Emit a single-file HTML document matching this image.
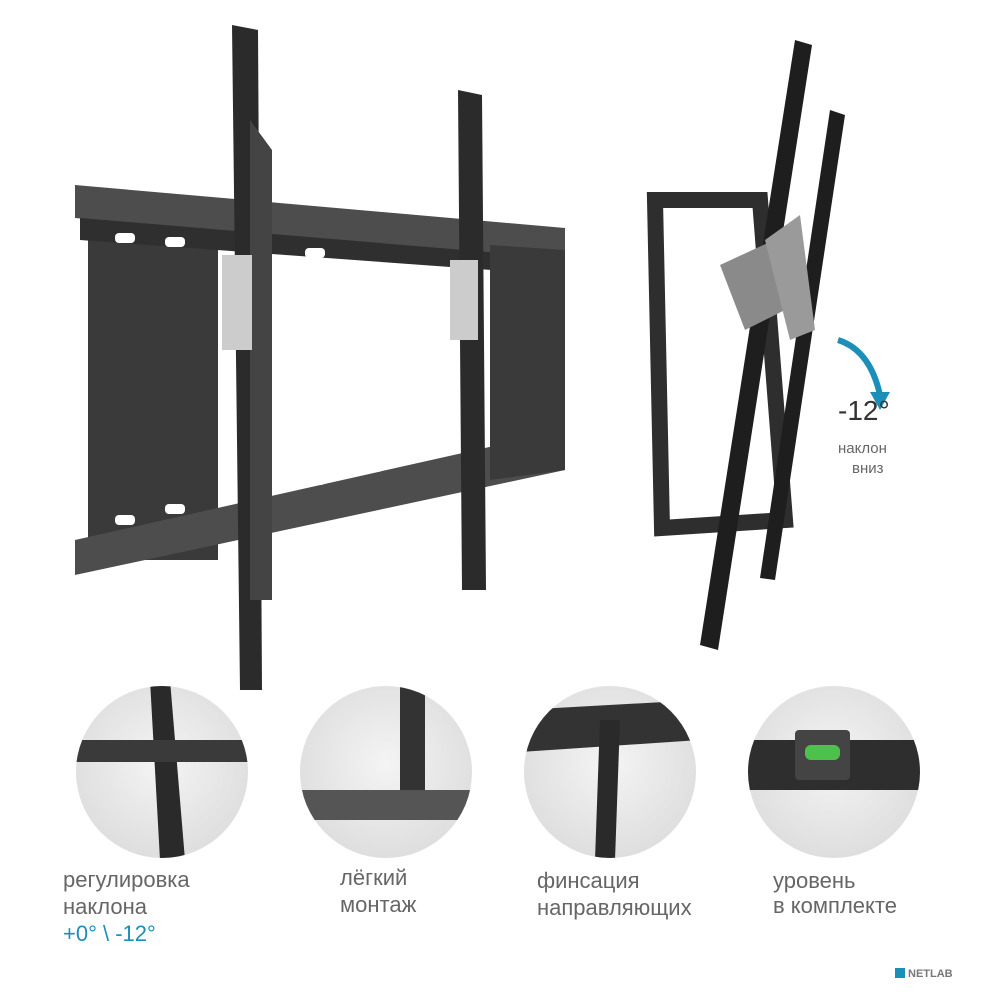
<!DOCTYPE html>
<html><head><meta charset="utf-8"><style>
html,body{margin:0;padding:0;background:#fff;}
svg{display:block;}
text{font-family:"Liberation Sans",sans-serif;}
</style></head><body>
<svg width="1000" height="1000" viewBox="0 0 1000 1000">
<defs>
<radialGradient id="c" cx="0.5" cy="0.45" r="0.6"><stop offset="0" stop-color="#f4f4f4"/><stop offset="1" stop-color="#dcdcdc"/></radialGradient>
<clipPath id="k1"><circle cx="162" cy="772" r="86"/></clipPath>
<clipPath id="k2"><circle cx="386" cy="772" r="86"/></clipPath>
<clipPath id="k3"><circle cx="610" cy="772" r="86"/></clipPath>
<clipPath id="k4"><circle cx="834" cy="772" r="86"/></clipPath>
</defs>
<!-- left bracket -->
<rect x="88" y="215" width="130" height="345" fill="#3a3a3a"/>
<polygon points="75,185 565,228 565,260 75,218" fill="#4d4d4d"/>
<polygon points="80,218 560,258 560,275 80,240" fill="#2f2f2f"/>
<polygon points="75,540 565,430 565,470 75,575" fill="#4d4d4d"/>
<polygon points="490,245 565,250 565,470 490,480" fill="#3a3a3a"/>
<g fill="#fff">
<rect x="115" y="233" width="20" height="10" rx="4"/><rect x="165" y="237" width="20" height="10" rx="4"/><rect x="305" y="248" width="20" height="10" rx="4"/>
<rect x="115" y="515" width="20" height="10" rx="4"/><rect x="165" y="504" width="20" height="10" rx="4"/><rect x="305" y="475" width="20" height="10" rx="4"/>
</g>
<polygon points="232,25 258,30 262,690 240,690" fill="#2b2b2b"/>
<polygon points="250,120 272,150 272,600 250,600" fill="#444"/>
<rect x="222" y="255" width="30" height="95" fill="#ccc"/>
<polygon points="458,90 482,95 486,590 462,590" fill="#2b2b2b"/>
<rect x="450" y="260" width="28" height="80" fill="#ccc"/>
<!-- right bracket -->
<polygon points="655,200 760,200 785,520 662,528" fill="none" stroke="#2e2e2e" stroke-width="16"/>
<polygon points="795,40 812,45 718,650 700,645" fill="#1e1e1e"/>
<polygon points="830,110 845,115 775,580 760,578" fill="#1e1e1e"/>
<polygon points="720,265 785,235 805,300 745,330" fill="#8a8a8a"/>
<polygon points="765,240 800,215 815,330 790,340" fill="#9a9a9a"/>
<!-- arrow -->
<path d="M838,340 Q870,350 880,395" fill="none" stroke="#1b8fb8" stroke-width="6"/>
<polygon points="870,392 890,392 880,410" fill="#1b8fb8"/>
<text x="838" y="420" font-size="28" fill="#333">-12°</text>
<text x="838" y="453" font-size="15" fill="#666">наклон</text>
<text x="852" y="473" font-size="15" fill="#666">вниз</text>
<!-- circles -->
<circle cx="162" cy="772" r="86" fill="url(#c)"/>
<circle cx="386" cy="772" r="86" fill="url(#c)"/>
<circle cx="610" cy="772" r="86" fill="url(#c)"/>
<circle cx="834" cy="772" r="86" fill="url(#c)"/>
<g clip-path="url(#k1)">
<polygon points="150,680 170,680 185,860 160,860" fill="#2a2a2a"/>
<rect x="70" y="740" width="180" height="22" fill="#3a3a3a"/>
</g>
<g clip-path="url(#k2)">
<rect x="400" y="680" width="25" height="130" fill="#333"/>
<rect x="300" y="790" width="175" height="30" fill="#555"/>
</g>
<g clip-path="url(#k3)">
<polygon points="520,710 700,700 700,740 520,752" fill="#333"/>
<polygon points="600,720 620,720 615,860 595,860" fill="#2a2a2a"/>
</g>
<g clip-path="url(#k4)">
<rect x="745" y="740" width="180" height="50" fill="#2e2e2e"/>
<rect x="795" y="730" width="55" height="50" rx="4" fill="#444"/>
<rect x="805" y="745" width="35" height="15" rx="6" fill="#4cc24c"/>
</g>
<!-- labels -->
<g font-size="22" fill="#666">
<text x="63" y="887">регулировка</text>
<text x="63" y="914">наклона</text>
<text x="340" y="885">лёгкий</text>
<text x="340" y="912">монтаж</text>
<text x="537" y="888">финсация</text>
<text x="537" y="915">направляющих</text>
<text x="773" y="888">уровень</text>
<text x="773" y="913">в комплекте</text>
</g>
<text x="63" y="941" font-size="22" fill="#1b8fb8">+0° \ -12°</text>
<rect x="895" y="968" width="10" height="10" fill="#1b8fb8"/>
<text x="908" y="977" font-size="11" fill="#777" font-weight="bold">NETLAB</text>
</svg>
</body></html>
